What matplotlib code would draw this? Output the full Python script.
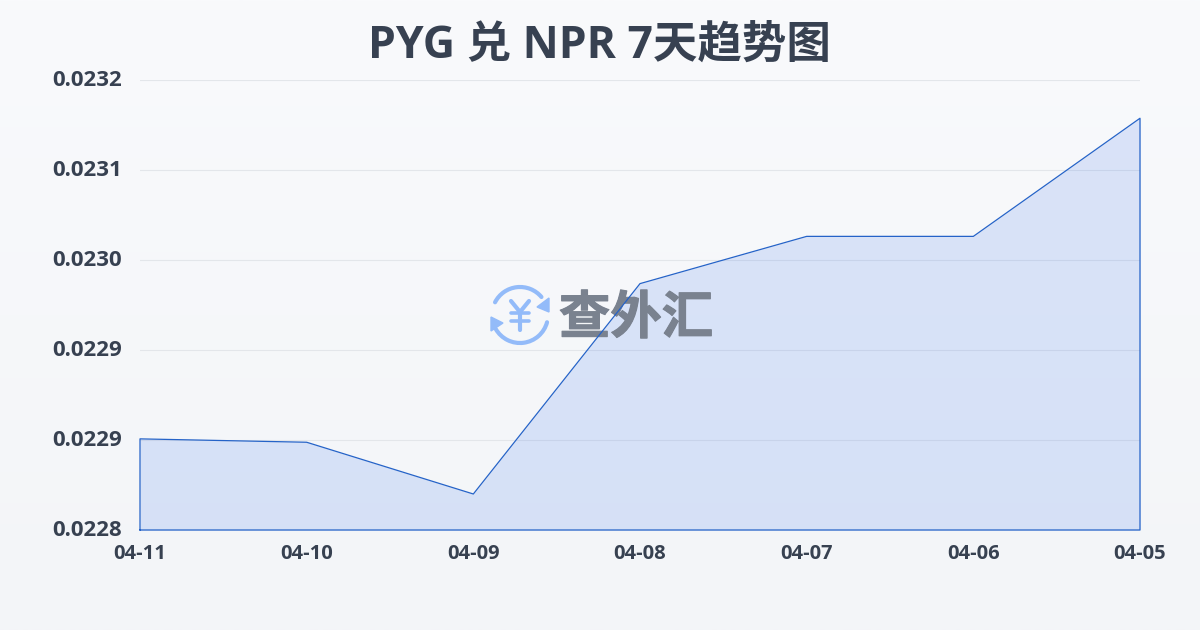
import matplotlib
matplotlib.use("Agg")
import matplotlib.pyplot as plt
import matplotlib.patheffects as pe
import numpy as np
from matplotlib.patches import Arc, Polygon
from matplotlib.transforms import ScaledTranslation

plt.rcParams['font.family'] = ['Open Sans', 'Noto Sans CJK SC', 'DejaVu Sans']

dates = ["04-11", "04-10", "04-09", "04-08", "04-07", "04-06", "04-05"]
rates = [0.022881, 0.022878, 0.022832, 0.023019, 0.023061, 0.023061, 0.023166]
y_ticks = [0.0228, 0.02288, 0.02296, 0.02304, 0.02312, 0.0232]
y_labels = ["0.0228", "0.0229", "0.0229", "0.0230", "0.0231", "0.0232"]

W, H = 1200, 630
TEXT = "#374151"
LINE = "#2563c8"
ICON = "#93bbf9"
AX_RECT = [140 / W, 1 - 530 / H, 1000 / W, 450 / H]

fig = plt.figure(figsize=(W / 100, H / 100), dpi=100)

# page background, light vertical gradient
bg = fig.add_axes([0, 0, 1, 1], zorder=0)
bg.axis('off')
top = np.array([0xf9, 0xfa, 0xfc]) / 255
bottom = np.array([0xf3, 0xf5, 0xf8]) / 255
grad = np.linspace(0, 1, 256)[:, None, None] * (bottom - top) + top
bg.imshow(grad, aspect='auto', extent=[0, W, H, 0])
bg.set_xlim(0, W)
bg.set_ylim(H, 0)

ax = fig.add_axes(AX_RECT, zorder=1)
ax.patch.set_alpha(0)
x = np.arange(len(dates))
ax.fill_between(x, rates, 0.0228, color="#2563eb", alpha=0.14, lw=0)
ax.set_xlim(0, len(dates) - 1)
ax.set_ylim(0.0228, 0.0232)
ax.set_xticks(x, dates)
ax.set_yticks(y_ticks, y_labels)
ax.grid(axis='y', color="#e3e6ea", lw=0.8)
ax.set_axisbelow(True)
ax.tick_params(axis='y', length=0, pad=13, labelsize=16, labelcolor=TEXT)
ax.tick_params(axis='x', length=0, pad=10, labelsize=14.5, labelcolor=TEXT)
lift = ScaledTranslation(0, 2 / 100, fig.dpi_scale_trans)
for lab in ax.get_yticklabels():
    lab.set_fontweight('bold')
    lab.set_transform(lab.get_transform() + lift)
for lab in ax.get_xticklabels():
    lab.set_fontweight('bold')
for s in ax.spines.values():
    s.set_visible(False)

# watermark goes over the fill, under the outline
wm = fig.add_axes([0, 0, 1, 1], zorder=2)
wm.axis('off')
wm.set_xlim(0, W)
wm.set_ylim(H, 0)
cx, cy = 520, 315
wm.add_patch(Arc((cx, cy), 56, 56, theta1=207, theta2=320, color=ICON, lw=3, capstyle='round'))
wm.add_patch(Arc((cx, cy), 56, 56, theta1=15, theta2=150, color=ICON, lw=3, capstyle='round'))
wm.add_patch(Polygon([[549, 298], [549, 312], [537, 307]], color=ICON))
wm.add_patch(Polygon([[491, 317], [491, 331], [503, 323]], color=ICON))
wm.plot([511, 520, 529], [301, 312, 301], color=ICON, lw=3, solid_capstyle='round')
wm.plot([520, 520], [312, 330], color=ICON, lw=3, solid_capstyle='round')
wm.plot([511, 529], [313, 313], color=ICON, lw=2.6, solid_capstyle='round')
wm.plot([511, 529], [321, 321], color=ICON, lw=2.6, solid_capstyle='round')
wm.text(636, 318, "查外汇", fontsize=37, fontweight='bold', color="#7a828f", ha='center', va='center',
        family='Noto Sans CJK SC',
        path_effects=[pe.withStroke(linewidth=0.8, foreground="#7a828f")])

outline = fig.add_axes(AX_RECT, zorder=3)
outline.axis('off')
outline.plot(np.r_[x[0], x, x[-1], x[0]], np.r_[0.0228, rates, 0.0228, 0.0228], color=LINE, lw=0.9, clip_on=False)
outline.set_xlim(0, len(dates) - 1)
outline.set_ylim(0.0228, 0.0232)

fig.text(599 / W, 1 - 46 / H, "PYG 兑 NPR 7天趋势图", fontsize=32, fontweight='bold', color=TEXT, ha='center', va='center')

fig.savefig("out.png", dpi=100)
